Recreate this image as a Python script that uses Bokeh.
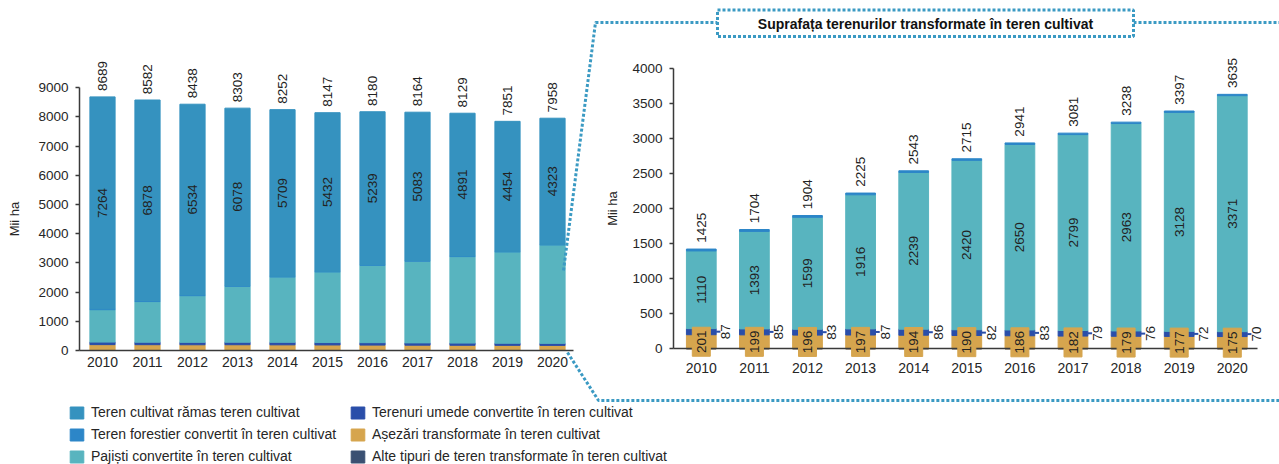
import math
from bokeh.plotting import figure
from bokeh.models import ColumnDataSource, Range1d, LinearAxis, FixedTicker, Legend, LegendItem
from bokeh.core.properties import value
from bokeh.embed import file_html
from bokeh.resources import INLINE

# ---------------- data ----------------
years = [2010, 2011, 2012, 2013, 2014, 2015, 2016, 2017, 2018, 2019, 2020]
total_cultivated = [8689, 8582, 8438, 8303, 8252, 8147, 8180, 8164, 8129, 7851, 7958]
remained = [7264, 6878, 6534, 6078, 5709, 5432, 5239, 5083, 4891, 4454, 4323]
converted_total = [1425, 1704, 1904, 2225, 2543, 2715, 2941, 3081, 3238, 3397, 3635]
grassland = [1110, 1393, 1599, 1916, 2239, 2420, 2650, 2799, 2963, 3128, 3371]
wetland = [87, 85, 83, 87, 86, 82, 83, 79, 76, 72, 70]
settlement = [201, 199, 196, 197, 194, 190, 186, 182, 179, 177, 175]
forest = [27, 27, 26, 25, 24, 23, 22, 21, 20, 20, 19]
other = [0, 0, 0, 0, 0, 0, 0, 0, 0, 0, 0]

yticks_left = [0, 1000, 2000, 3000, 4000, 5000, 6000, 7000, 8000, 9000]
yticks_right = [0, 500, 1000, 1500, 2000, 2500, 3000, 3500, 4000]

names = {
    "remained": "Teren cultivat rămas teren cultivat",
    "forest": "Teren forestier convertit în teren cultivat",
    "grassland": "Pajiști convertite în teren cultivat",
    "wetland": "Terenuri umede convertite în teren cultivat",
    "settlement": "Așezări transformate în teren cultivat",
    "other": "Alte tipuri de teren transformate în teren cultivat",
}
y_label = "Mii ha"
inset_title = "Suprafața terenurilor transformate în teren cultivat"

colors = {
    "remained": "#3592BF",
    "forest": "#2C86C8",
    "grassland": "#58B4BF",
    "wetland": "#2A4EA9",
    "settlement": "#D6A54E",
    "other": "#3A5072",
}
DOT = "#3B9AC3"
TXT = "#222222"
FONT = "Liberation Sans"

# ---------------- layout (page pixel anchors) ----------------
W, H = 1279, 464
PX0, PY0 = 0, 0            # page offset of the canvas
PX1, PY1 = PX0 + W, PY0 + H


def rng(v0, p0, v1, p1, lo, hi):
    k = (v1 - v0) / (p1 - p0)
    return Range1d(v0 + (lo - p0) * k, v0 + (hi - p0) * k)


p = figure(width=W, height=H, x_range=Range1d(PX0, PX1), y_range=Range1d(PY1, PY0),
           x_axis_type=None, y_axis_type=None, min_border=0, toolbar_location=None,
           output_backend="svg", outline_line_color=None)
p.background_fill_color = "white"
p.border_fill_color = "white"

p.extra_x_ranges = {
    "lx": rng(2010, 102, 2020, 552, PX0, PX1),
    "rx": rng(2010, 700.8, 2020, 1231.8, PX0, PX1),
}
p.extra_y_ranges = {
    "ly": rng(0, 350, 9000, 87.3, PY1, PY0),
    "ry": rng(0, 348.3, 4000, 68.3, PY1, PY0),
}
LAX_X = 2010 - (102 - 79) / 45.0
LAX_END = 2010 + (573 - 102) / 45.0
RAX_X = 2010 - (700.8 - 673) / 53.1
RAX_END = 2010 + (1257 - 700.8) / 53.1


def style(ax, fs):
    ax.axis_line_color = "#3a3a3a"
    ax.axis_line_width = 1.5
    ax.major_tick_line_color = "#3a3a3a"
    ax.major_tick_line_width = 1.5
    ax.minor_tick_line_color = None
    ax.major_label_text_font = FONT
    ax.major_label_text_font_size = fs
    ax.major_label_text_color = "#262626"
    ax.axis_label_text_font = FONT
    ax.axis_label_text_font_style = "normal"
    ax.axis_label_text_font_size = "13px"
    ax.axis_label_text_color = "#262626"


# ---------------- left chart ----------------
src_l = ColumnDataSource(dict(
    year=years, other=other, settlement=settlement, wetland=wetland,
    grassland=grassland, forest=forest, remained=remained,
    tot_y=[t + 200 for t in total_cultivated], tot_lab=[str(t) for t in total_cultivated],
    mid_y=[c + r / 2 for c, r in zip(converted_total, remained)], mid_lab=[str(r) for r in remained],
))
stack_l = ["other", "settlement", "wetland", "grassland", "forest", "remained"]
rl = p.vbar_stack(stack_l, x="year", width=0.56, color=[colors[s] for s in stack_l],
                  source=src_l, x_range_name="lx", y_range_name="ly")
rmap = dict(zip(stack_l, rl))

p.text(x="year", y="tot_y", text="tot_lab", source=src_l, angle=math.pi / 2,
       text_align="left", text_baseline="middle", text_font=value(FONT),
       text_font_size=value("13.5px"), text_color=TXT, x_range_name="lx", y_range_name="ly")
p.text(x="year", y="mid_y", text="mid_lab", source=src_l, angle=math.pi / 2,
       text_align="center", text_baseline="middle", text_font=value(FONT),
       text_font_size=value("13.5px"), text_color=TXT, x_range_name="lx", y_range_name="ly")

ly_ax = LinearAxis(x_range_name="lx", y_range_name="ly", fixed_location=LAX_X, bounds=(0, 9000),
                   ticker=FixedTicker(ticks=yticks_left), axis_label=y_label)
style(ly_ax, "13.5px")
ly_ax.major_tick_in = 0
ly_ax.major_tick_out = 4
ly_ax.major_label_standoff = 7
ly_ax.axis_label_standoff = 13
p.add_layout(ly_ax, "left")

lx_ax = LinearAxis(x_range_name="lx", y_range_name="ly", fixed_location=0, bounds=(LAX_X, LAX_END),
                   ticker=FixedTicker(ticks=years))
style(lx_ax, "14px")
lx_ax.major_tick_in = 0
lx_ax.major_tick_out = 0
lx_ax.major_label_standoff = 6
p.add_layout(lx_ax, "below")

# ---------------- right chart ----------------
src_r = ColumnDataSource(dict(
    year=years, other=other, settlement=settlement, wetland=wetland,
    grassland=grassland, forest=forest,
    tot_y=[t + 90 for t in converted_total], tot_lab=[str(t) for t in converted_total],
    gr_y=[s + w + g / 2 for s, w, g in zip(settlement, wetland, grassland)],
    gr_lab=[str(g) for g in grassland],
    se_y=[s / 2 for s in settlement], se_lab=[str(s) for s in settlement],
    we_y=[s + w / 2 for s, w in zip(settlement, wetland)], we_lab=[str(w) for w in wetland],
    we_x=[y + 0.46 for y in years], lead0=[y + 0.28 for y in years], lead1=[y + 0.36 for y in years],
))
stack_r = ["other", "settlement", "wetland", "grassland", "forest"]
p.vbar_stack(stack_r, x="year", width=0.56, color=[colors[s] for s in stack_r],
             source=src_r, x_range_name="rx", y_range_name="ry")

p.text(x="year", y="tot_y", text="tot_lab", source=src_r, angle=math.pi / 2,
       text_align="left", text_baseline="middle", text_font=value(FONT),
       text_font_size=value("13.5px"), text_color=TXT, x_range_name="rx", y_range_name="ry")
p.text(x="year", y="gr_y", text="gr_lab", source=src_r, angle=math.pi / 2,
       text_align="center", text_baseline="middle", text_font=value(FONT),
       text_font_size=value("13.5px"), text_color=TXT, x_range_name="rx", y_range_name="ry")
p.segment(x0="lead0", y0="we_y", x1="lead1", y1="we_y", source=src_r, line_color=colors["wetland"],
          line_width=2, x_range_name="rx", y_range_name="ry")
p.text(x="we_x", y="we_y", text="we_lab", source=src_r, angle=math.pi / 2,
       text_align="center", text_baseline="middle", text_font=value(FONT),
       text_font_size=value("13.5px"), text_color=TXT, x_range_name="rx", y_range_name="ry")
p.rect(x="year", y="se_y", width=18, height=29, width_units="screen", height_units="screen",
       color=colors["settlement"], source=src_r, x_range_name="rx", y_range_name="ry", level="annotation")
p.text(x="year", y="se_y", text="se_lab", source=src_r, angle=math.pi / 2,
       text_align="center", text_baseline="middle", text_font=value(FONT),
       text_font_size=value("13.5px"), text_color=TXT, x_range_name="rx", y_range_name="ry",
       level="annotation")

ry_ax = LinearAxis(x_range_name="rx", y_range_name="ry", fixed_location=RAX_X, bounds=(0, 4000),
                   ticker=FixedTicker(ticks=yticks_right), axis_label=y_label)
style(ry_ax, "13.5px")
ry_ax.major_tick_in = 0
ry_ax.major_tick_out = 4
ry_ax.major_label_standoff = 7
ry_ax.axis_label_standoff = 9
p.add_layout(ry_ax, "left")

rx_ax = LinearAxis(x_range_name="rx", y_range_name="ry", fixed_location=0, bounds=(RAX_X, RAX_END),
                   ticker=FixedTicker(ticks=years))
style(rx_ax, "14px")
rx_ax.major_tick_in = 0
rx_ax.major_tick_out = 0
rx_ax.major_label_standoff = 14
p.add_layout(rx_ax, "below")

# ---------------- connectors & inset title ----------------
dot = dict(line_color=DOT, line_width=3, line_dash="3 2")
p.line([563, 595, 717], [270, 22, 22], **dot)
p.line([1133, PX1], [22, 22], **dot)
p.line([567, 598, PX1], [352, 400, 400], **dot)
p.quad(left=[717], right=[1133], top=[9.5], bottom=[36], fill_color="white", **dot)
p.text(x=[925], y=[23], text=[inset_title], text_align="center", text_baseline="middle",
       text_font=value(FONT), text_font_style="bold", text_font_size=value("14px"), text_color="#111111")

# ---------------- legends ----------------
def make_legend(keys, loc):
    leg = Legend(items=[LegendItem(label=names[k], renderers=[rmap[k]]) for k in keys],
                 location=loc, orientation="vertical")
    leg.background_fill_alpha = 0
    leg.border_line_color = None
    leg.padding = 0
    leg.margin = 0
    leg.spacing = 6
    leg.glyph_height = 15
    leg.glyph_width = 17
    leg.label_height = 15
    leg.label_standoff = 6
    leg.label_text_font = FONT
    leg.label_text_font_size = "14px"
    leg.label_text_color = "#262626"
    p.add_layout(leg)

make_legend(["remained", "forest", "grassland"], (68, 0))
make_legend(["wetland", "settlement", "other"], (349, 0))

open("out.html", "w").write(file_html(p, INLINE))
